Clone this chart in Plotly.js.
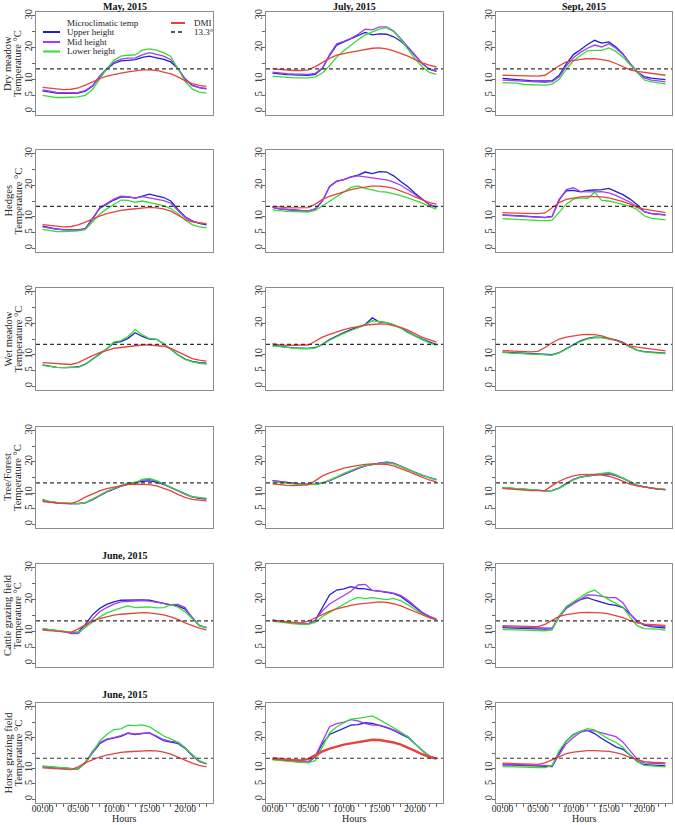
<!DOCTYPE html>
<html><head><meta charset="utf-8">
<script src="https://cdn.plot.ly/plotly-3.0.1.min.js"></script>
<style>html,body{margin:0;padding:0;background:#fff}#chart{width:675px;height:825px}</style>
</head><body><div id="chart"></div>
<script>
// ---------------- DATA ----------------
const hours = [0,1,2,3,4,5,6,7,8,9,10,11,12,13,14,15,16,17,18,19,20,21,22,23];
const hourTicks = [0,5,10,15,20];
const hourLabels = ['00:00','05:00','10:00','15:00','20:00'];
const yTicks = [0,5,10,15,20,25,30];
const yTickText = ['0','5','10','','20','','30'];
const sites = ['Dry meadow','Hedges','Wet meadow','Tree/Forest','Cattle grazing field','Horse grazing field'];
const monthTitles = ['May, 2015','July, 2015','Sept, 2015'];
const juneTitle = 'June, 2015';
const yTitle2 = 'Temperature °C';
const xTitle = 'Hours';
const seriesNames = ['Upper height','Mid height','Lower height','DMI'];
const legendHeader = 'Microclimatic temp';
const threshold = 13.3;

// Dry meadow
const dryMay_upper = [6.4,6.0,5.7,5.6,5.6,5.7,6.3,7.8,10.8,13.2,15.0,15.8,16.0,16.2,16.9,17.3,16.8,16.3,15.5,13.4,10.2,8.2,7.4,7.0];
const dryMay_mid   = [6.7,6.2,5.9,5.8,5.8,5.9,6.5,8.0,11.0,13.4,15.4,16.4,16.7,16.8,17.7,18.4,17.9,17.3,16.2,13.5,10.0,8.0,7.4,7.2];
const dryMay_lower = [5.0,4.6,4.3,4.3,4.4,4.5,5.0,6.8,10.0,13.3,16.0,17.3,17.6,17.7,19.2,19.6,19.2,18.4,17.2,13.3,9.4,7.0,6.0,5.7];
const dryMay_dmi   = [7.5,7.2,7.0,6.8,6.9,7.3,8.2,9.3,10.2,11.0,11.6,12.0,12.4,12.7,13.0,13.0,12.8,12.3,11.7,10.8,9.6,8.7,8.1,7.8];
const dryJul_upper = [12.0,11.7,11.5,11.4,11.3,11.3,11.6,13.5,17.5,20.8,21.8,22.8,24.0,24.8,24.0,24.3,24.2,23.4,22.0,20.0,17.5,15.0,13.2,12.5];
const dryJul_mid   = [12.3,12.0,11.8,11.7,11.6,11.6,11.9,13.6,17.8,21.2,22.0,22.9,24.2,25.8,25.6,26.5,26.5,25.2,22.8,20.3,17.6,15.0,13.3,12.7];
const dryJul_lower = [11.0,10.8,10.6,10.5,10.5,10.5,10.8,12.0,14.3,17.0,19.0,20.8,22.5,24.0,24.8,25.8,26.3,25.0,22.5,19.5,16.5,14.0,12.2,11.6];
const dryJul_dmi   = [13.3,13.1,12.9,12.8,12.8,13.0,14.0,15.4,16.6,17.6,18.2,18.6,19.0,19.4,19.8,19.9,19.6,19.0,18.2,17.3,16.2,15.2,14.5,13.9];
const drySep_upper = [10.3,10.2,10.1,9.8,9.6,9.5,9.5,9.6,11.3,14.9,17.8,19.3,21.0,22.3,21.4,21.8,20.2,18.0,14.9,12.3,10.9,10.4,10.1,9.9];
const drySep_mid   = [9.8,9.7,9.6,9.3,9.2,9.1,9.1,9.3,10.8,14.2,16.8,18.5,19.8,20.8,20.2,21.2,19.8,17.8,15.0,12.4,10.5,9.8,9.5,9.2];
const drySep_lower = [9.0,8.9,8.8,8.4,8.3,8.2,8.2,8.5,10.0,13.2,15.8,17.5,19.0,19.1,19.1,19.9,18.8,17.0,14.5,12.0,9.8,9.2,8.9,8.6];
const drySep_dmi   = [11.3,11.2,11.1,11.0,10.9,11.0,11.3,12.8,14.3,15.5,16.0,16.3,16.5,16.5,16.2,15.8,15.0,14.0,13.0,12.5,12.2,11.9,11.6,11.3];
// Hedges
const hedMay_upper = [7.0,6.5,6.1,5.9,5.8,5.8,6.2,9.3,12.6,14.0,15.3,16.2,16.3,15.9,16.6,17.2,16.6,16.1,15.0,12.3,10.0,8.7,7.9,7.4];
const hedMay_mid   = [6.8,6.3,6.0,5.8,5.7,5.7,6.2,9.0,12.9,14.3,15.6,16.5,16.4,15.9,16.4,16.0,15.5,15.1,14.3,12.0,9.8,8.6,8.0,7.7];
const hedMay_lower = [6.0,5.6,5.3,5.3,5.4,5.5,5.9,8.3,10.8,12.5,14.0,15.3,15.2,14.6,15.0,14.6,14.0,13.5,12.6,11.0,9.0,7.5,6.8,6.5];
const hedMay_dmi   = [7.5,7.2,7.0,6.8,6.9,7.4,8.3,9.3,10.2,11.0,11.6,12.0,12.3,12.6,12.9,13.0,12.8,12.5,11.8,10.5,9.2,8.4,8.0,7.8];
const hedJul_upper = [13.0,12.5,12.3,12.2,12.0,11.8,12.5,15.0,19.6,21.3,21.8,22.7,23.2,24.2,23.7,24.3,24.2,23.0,21.2,19.5,17.5,15.5,13.8,13.0];
const hedJul_mid   = [13.0,12.5,12.3,12.2,12.0,11.8,12.5,15.0,19.5,21.2,21.8,22.6,23.0,22.7,22.2,22.1,21.7,21.0,20.0,18.6,17.0,15.3,13.9,13.2];
const hedJul_lower = [12.2,11.9,11.7,11.6,11.5,11.5,12.0,13.5,15.0,16.3,18.0,19.3,19.8,19.0,18.5,18.0,17.8,17.3,16.7,16.0,15.2,14.3,13.3,12.4];
const hedJul_dmi   = [13.3,13.0,12.9,12.8,12.8,12.9,14.0,15.5,16.5,17.2,18.0,18.6,19.1,19.4,19.7,19.7,19.5,19.0,18.2,17.3,16.3,15.3,14.5,14.0];
const hedSep_upper = [10.6,10.5,10.4,10.1,10.0,9.9,9.8,10.1,15.5,18.2,18.4,17.9,18.4,18.5,18.6,19.0,18.1,17.0,15.6,13.8,11.6,11.0,10.8,10.6];
const hedSep_mid   = [10.5,10.4,10.3,10.1,9.9,9.8,9.7,10.0,15.2,18.6,19.2,18.0,17.9,17.9,18.0,17.6,16.8,15.8,14.6,13.2,11.6,11.0,10.7,10.5];
const hedSep_lower = [9.4,9.3,9.2,9.1,8.8,8.7,8.7,8.9,11.5,14.0,15.6,16.0,15.8,17.8,15.2,15.0,14.5,14.0,13.3,12.3,10.3,9.5,9.2,9.0];
const hedSep_dmi   = [11.3,11.2,11.1,11.0,10.9,11.0,11.2,12.8,14.5,15.5,16.0,16.3,16.5,16.5,16.3,16.0,15.5,14.8,14.0,13.0,12.4,12.0,11.6,11.3];
// Wet meadow (no mid-height series)
const wetMay_upper = [6.8,6.3,6.0,5.9,5.9,6.1,7.0,8.5,10.2,11.8,13.8,14.2,15.2,17.0,15.8,15.0,14.9,13.5,11.8,10.0,8.6,7.9,7.5,7.3];
const wetMay_mid   = [];
const wetMay_lower = [6.6,6.2,6.0,5.9,5.9,6.0,6.9,8.4,10.1,11.9,14.0,14.5,15.8,18.0,16.3,15.1,14.9,13.4,11.7,9.9,8.5,7.7,7.3,7.0];
const wetMay_dmi   = [7.5,7.3,7.1,6.9,6.9,7.5,8.7,9.7,10.7,11.3,12.0,12.3,12.6,12.9,13.1,13.1,13.0,12.7,12.0,11.0,9.8,8.8,8.3,8.0];
const wetJul_upper = [13.0,12.6,12.4,12.2,12.0,12.0,12.3,13.3,14.8,16.0,17.0,18.0,18.8,19.6,21.7,20.4,20.2,19.5,18.5,17.2,16.0,15.0,14.0,13.2];
const wetJul_mid   = [];
const wetJul_lower = [12.8,12.5,12.3,12.1,11.9,11.9,12.2,13.2,14.6,15.8,16.8,17.7,18.5,19.4,20.8,20.5,20.2,19.5,18.4,17.0,15.8,14.8,13.8,13.0];
const wetJul_dmi   = [13.5,13.1,13.0,13.0,13.0,13.1,14.3,15.6,16.5,17.3,18.0,18.5,19.0,19.4,19.6,19.8,19.7,19.3,18.7,17.8,16.7,15.5,14.8,14.0];
const wetSep_upper = [10.8,10.7,10.6,10.4,10.2,10.1,10.0,10.0,10.7,11.9,13.2,14.4,15.2,15.6,15.5,15.1,14.7,13.9,12.5,11.5,11.0,10.8,10.6,10.5];
const wetSep_mid   = [];
const wetSep_lower = [10.7,10.6,10.5,10.3,10.1,10.0,9.9,9.9,10.6,11.8,13.0,14.2,15.0,15.4,15.4,15.0,14.6,13.8,12.4,11.4,10.9,10.7,10.5,10.4];
const wetSep_dmi   = [11.3,11.2,11.1,11.0,10.9,11.1,12.3,13.8,15.0,15.6,16.0,16.3,16.5,16.4,16.0,15.4,14.6,13.6,12.8,12.4,12.1,11.8,11.5,11.2];
// Tree/Forest
const treMay_upper = [7.8,7.2,6.9,6.7,6.6,6.6,6.9,7.9,9.1,10.4,11.3,12.2,12.8,13.3,13.8,13.9,13.5,12.8,11.8,10.7,9.6,8.8,8.3,8.1];
const treMay_mid   = [7.8,7.2,6.9,6.7,6.6,6.6,6.9,7.9,9.2,10.5,11.4,12.4,13.1,13.4,14.2,14.4,13.8,12.9,11.8,10.7,9.6,8.8,8.4,8.2];
const treMay_lower = [8.0,7.3,7.0,6.8,6.7,6.6,6.9,8.0,9.3,10.6,11.5,12.6,13.3,13.4,14.4,14.7,14.0,13.0,11.9,10.8,9.7,8.9,8.5,8.3];
const treMay_dmi   = [7.3,7.0,6.8,6.6,6.6,7.4,8.7,9.8,10.7,11.4,11.9,12.4,12.8,12.9,12.9,12.7,12.3,11.6,10.7,9.6,8.6,8.0,7.7,7.5];
const treJul_upper = [14.0,13.7,13.3,13.1,12.9,12.9,12.8,13.3,14.0,15.0,16.0,17.0,17.9,18.7,19.2,19.6,19.8,19.5,18.6,17.6,16.6,15.7,15.0,14.3];
const treJul_mid   = [14.0,13.7,13.3,13.1,12.9,12.9,12.8,13.3,14.0,15.0,16.0,17.0,17.9,18.7,19.2,19.7,20.0,19.6,18.7,17.6,16.6,15.7,15.0,14.3];
const treJul_lower = [13.7,13.4,13.1,12.9,12.8,12.7,12.7,13.2,14.1,15.2,16.3,17.3,18.2,18.9,19.2,19.4,19.6,19.4,18.6,17.6,16.6,15.7,14.9,14.2];
const treJul_dmi   = [13.0,12.7,12.5,12.4,12.4,12.6,14.0,15.5,16.5,17.3,18.0,18.5,18.9,19.2,19.4,19.4,19.2,18.7,17.9,17.0,16.0,15.0,14.2,13.6];
const treSep_upper = [11.7,11.5,11.3,11.1,10.9,10.8,10.7,10.8,11.6,13.0,14.3,15.1,15.5,15.8,16.1,16.2,15.6,14.7,13.5,12.5,12.0,11.6,11.3,11.1];
const treSep_mid   = [11.7,11.5,11.3,11.1,10.9,10.8,10.7,10.8,11.7,13.1,14.4,15.2,15.6,15.9,16.2,16.3,15.7,14.8,13.6,12.5,12.0,11.6,11.3,11.1];
const treSep_lower = [11.8,11.6,11.4,11.2,11.0,10.9,10.8,10.8,11.5,12.8,14.2,15.1,15.6,15.9,16.3,16.6,15.9,14.9,13.7,12.6,12.0,11.7,11.4,11.2];
const treSep_dmi   = [11.5,11.3,11.1,10.9,10.8,10.8,10.9,12.4,13.8,14.8,15.5,15.9,16.0,16.0,15.8,15.4,14.7,13.8,12.9,12.3,11.9,11.6,11.3,11.1];
// Cattle grazing field
const catJun_upper = [10.8,10.5,10.2,10.0,9.6,9.8,12.2,15.2,17.2,18.5,19.3,19.8,19.9,19.8,19.9,19.8,19.4,18.8,18.3,18.0,17.0,14.5,11.8,11.2];
const catJun_mid   = [10.8,10.5,10.2,9.9,9.3,9.3,11.5,14.0,16.2,17.5,18.6,19.3,19.5,19.6,19.7,19.5,19.2,18.8,18.4,18.5,17.5,14.2,11.9,11.2];
const catJun_lower = [10.9,10.6,10.3,10.1,9.8,9.8,11.2,12.9,14.5,15.8,16.7,17.4,18.0,17.5,17.6,17.7,17.4,17.5,18.4,17.6,16.2,14.0,11.9,11.1];
const catJun_dmi   = [10.4,10.2,10.0,9.8,9.7,10.8,12.0,13.2,14.0,14.6,15.1,15.4,15.6,15.8,15.9,15.8,15.6,15.2,14.6,13.8,12.7,11.8,11.0,10.5];
const catJul_upper = [13.5,13.2,12.9,12.6,12.4,12.3,13.5,17.5,21.5,23.0,23.4,24.1,23.5,23.4,22.9,22.7,22.4,21.9,21.0,19.4,17.6,15.8,14.6,13.8];
const catJul_mid   = [13.4,13.1,12.8,12.6,12.5,12.4,13.6,16.5,18.6,20.0,21.2,22.6,24.6,24.8,22.9,22.7,22.4,22.0,21.3,19.8,17.9,16.0,14.8,13.9];
const catJul_lower = [13.2,12.9,12.6,12.4,12.3,12.2,12.8,14.7,16.0,17.3,18.5,19.8,20.7,20.3,20.6,20.3,20.0,20.4,19.6,18.4,16.9,15.4,14.3,13.6];
const catJul_dmi   = [13.5,13.2,13.0,12.8,12.7,13.2,14.3,15.4,16.3,17.1,17.7,18.2,18.6,18.9,19.2,19.3,19.1,18.7,18.0,17.1,16.1,15.1,14.3,13.7];
const catSep_upper = [11.2,11.1,11.0,10.9,10.8,10.7,10.7,10.8,14.8,17.5,19.1,20.0,20.6,19.8,19.1,18.5,18.2,17.5,15.5,13.2,12.0,11.5,11.3,11.0];
const catSep_mid   = [11.5,11.4,11.3,11.2,11.1,11.0,10.9,11.0,14.5,17.2,18.6,20.0,21.5,21.4,21.0,20.6,20.6,19.0,15.5,13.0,12.2,11.8,11.7,11.5];
const catSep_lower = [10.6,10.5,10.5,10.4,10.3,10.2,10.2,10.5,14.8,17.8,19.2,20.6,22.2,23.0,21.3,20.0,18.8,17.6,14.5,11.8,10.9,10.8,10.7,10.3];
const catSep_dmi   = [11.8,11.7,11.6,11.5,11.4,11.5,12.2,13.5,14.7,15.3,15.7,15.9,16.0,16.0,15.8,15.5,15.0,14.3,13.4,12.7,12.3,12.1,12.0,11.9];
// Horse grazing field
const horJun_upper = [10.6,10.4,10.2,10.0,9.8,9.8,12.0,15.2,18.0,19.3,19.9,20.4,21.4,21.0,21.3,21.5,20.3,19.0,18.5,18.1,16.5,14.2,12.3,11.5];
const horJun_mid   = [10.6,10.4,10.2,10.0,9.8,9.8,11.8,15.5,18.3,19.5,20.0,20.6,21.5,21.1,21.4,21.5,20.5,19.3,18.8,18.5,16.8,14.3,12.3,11.5];
const horJun_lower = [10.8,10.6,10.4,10.2,10.0,9.8,11.7,15.0,18.8,21.0,22.6,22.8,24.0,23.9,24.1,23.5,22.0,20.5,19.6,18.5,16.6,14.5,12.5,11.6];
const horJun_dmi   = [10.2,10.0,9.8,9.6,9.6,10.5,11.8,12.8,13.7,14.3,14.8,15.2,15.4,15.6,15.8,15.8,15.7,15.3,14.6,13.6,12.6,11.7,11.0,10.5];
const horJul_upper = [13.0,12.7,12.5,12.3,12.1,12.0,13.8,18.0,21.0,22.0,22.8,24.0,24.2,24.8,24.6,24.0,23.2,22.3,21.2,20.0,18.0,15.8,14.0,13.3];
const horJul_mid   = [13.0,12.7,12.5,12.3,12.1,12.0,14.0,19.0,23.5,24.5,25.0,25.8,25.4,24.5,24.0,24.0,23.4,22.5,21.5,20.3,18.0,15.8,14.0,13.3];
const horJul_lower = [12.8,12.6,12.3,12.1,12.0,11.8,12.5,17.0,21.5,23.5,24.8,26.0,26.2,26.6,27.0,25.8,24.5,23.2,21.8,20.2,18.0,15.8,14.0,13.2];
const horJul_dmi   = [13.3,13.0,12.8,12.7,12.6,13.0,14.3,15.5,16.4,17.1,17.7,18.1,18.5,19.0,19.3,19.2,18.9,18.4,17.7,16.8,15.7,14.6,13.7,13.2];
const horSep_upper = [11.2,11.1,11.0,10.9,10.8,10.7,10.7,10.6,14.9,18.9,21.0,22.0,22.3,21.3,19.7,18.3,17.0,16.2,14.4,12.4,11.2,11.0,10.9,10.8];
const horSep_mid   = [11.4,11.3,11.2,11.1,11.0,10.9,10.9,10.9,14.5,18.0,20.0,21.7,22.3,22.2,21.5,21.0,20.3,18.5,15.8,13.0,11.8,11.6,11.6,11.5];
const horSep_lower = [10.6,10.5,10.5,10.4,10.3,10.3,10.3,11.0,15.8,18.9,20.8,22.0,22.9,22.5,20.9,19.5,18.5,16.8,14.3,12.2,11.0,10.8,10.8,10.5];
const horSep_dmi   = [11.7,11.6,11.5,11.4,11.3,11.3,11.8,12.8,14.0,14.8,15.3,15.6,15.8,15.8,15.7,15.5,15.1,14.5,13.6,12.8,12.2,12.0,11.9,11.8];

// panels in reading order (row = site, col = month)
const panelSeries = [
  [dryMay_upper, dryMay_mid, dryMay_lower, dryMay_dmi],
  [dryJul_upper, dryJul_mid, dryJul_lower, dryJul_dmi],
  [drySep_upper, drySep_mid, drySep_lower, drySep_dmi],
  [hedMay_upper, hedMay_mid, hedMay_lower, hedMay_dmi],
  [hedJul_upper, hedJul_mid, hedJul_lower, hedJul_dmi],
  [hedSep_upper, hedSep_mid, hedSep_lower, hedSep_dmi],
  [wetMay_upper, wetMay_mid, wetMay_lower, wetMay_dmi],
  [wetJul_upper, wetJul_mid, wetJul_lower, wetJul_dmi],
  [wetSep_upper, wetSep_mid, wetSep_lower, wetSep_dmi],
  [treMay_upper, treMay_mid, treMay_lower, treMay_dmi],
  [treJul_upper, treJul_mid, treJul_lower, treJul_dmi],
  [treSep_upper, treSep_mid, treSep_lower, treSep_dmi],
  [catJun_upper, catJun_mid, catJun_lower, catJun_dmi],
  [catJul_upper, catJul_mid, catJul_lower, catJul_dmi],
  [catSep_upper, catSep_mid, catSep_lower, catSep_dmi],
  [horJun_upper, horJun_mid, horJun_lower, horJun_dmi],
  [horJul_upper, horJul_mid, horJul_lower, horJul_dmi],
  [horSep_upper, horSep_mid, horSep_lower, horSep_dmi]
];

// ---------------- STYLE / LAYOUT ----------------
const W = 675, H = 825;
const FONT = 'Liberation Serif, Times New Roman, serif';
const colors = ['#2020cc', '#a23ef0', '#36dc36', '#e2443e'];
const lineW = 1.3;
const colPx = [[36,213],[266,443],[496,672]];
const rowPx = [[12,115],[150,252],[288,390],[427,528],[564,667],[703,803]];
const px = x => x / W;
const py = y => 1 - y / H;

const hourTickText = hours.map(h => { const i = hourTicks.indexOf(h); return i >= 0 ? hourLabels[i] : ''; });

const traces = [];
const layout = {
  width: W, height: H,
  margin: {l:0, r:0, t:0, b:0},
  paper_bgcolor: '#fff', plot_bgcolor: '#fff',
  showlegend: false,
  font: {family: FONT, color: '#222', size: 10},
  shapes: [], annotations: []
};

panelSeries.forEach((ser, i) => {
  const r = Math.floor(i / 3), c = i % 3;
  const sfx = i === 0 ? '' : String(i + 1);
  const thickRed = (r === 5 && c === 1);
  ser.forEach((vals, k) => {
    if (!vals.length) return;
    traces.push({
      type: 'scatter', mode: 'lines', x: hours, y: vals, name: seriesNames[k],
      xaxis: 'x' + sfx, yaxis: 'y' + sfx, hoverinfo: 'skip',
      line: {color: colors[k], width: (k === 3 && thickRed) ? 2.4 : lineW}
    });
  });
  const bottom = r === 5;
  layout['xaxis' + sfx] = {
    domain: [px(colPx[c][0]), px(colPx[c][1])],
    anchor: 'y' + sfx,
    range: [-0.92, 23.92],
    showline: true, mirror: true, linecolor: '#8c8c8c', linewidth: 1,
    showgrid: false, zeroline: false, fixedrange: true,
    tickmode: 'array', tickvals: hours, ticktext: hourTickText,
    ticks: bottom ? 'outside' : '', ticklen: 3, tickcolor: '#666',
    ticklabelstandoff: -6,
    showticklabels: bottom, tickfont: {family: FONT, size: 9.5, color: '#222'}
  };
  layout['yaxis' + sfx] = {
    domain: [py(rowPx[r][1]), py(rowPx[r][0])],
    anchor: 'x' + sfx,
    range: [-1.2, 31.2],
    showline: true, mirror: true, linecolor: '#8c8c8c', linewidth: 1,
    showgrid: false, zeroline: false, fixedrange: true,
    tickmode: 'array', tickvals: yTicks, ticktext: yTickText,
    ticks: 'outside', ticklen: 3, tickcolor: '#666', tickangle: -90,
    ticklabelstandoff: -4,
    tickfont: {family: FONT, size: 10.5, color: '#222'}
  };
  // 13.3° reference line
  layout.shapes.push({
    type: 'line', xref: 'x' + sfx + ' domain', x0: 0, x1: 1,
    yref: 'y' + sfx, y0: threshold, y1: threshold,
    line: {color: '#333', width: 1.2, dash: '4px,3px'}
  });
  if (bottom) {
    layout.annotations.push({
      text: xTitle, xref: 'paper', yref: 'paper',
      x: px((colPx[c][0] + colPx[c][1]) / 2), y: 0,
      xanchor: 'center', yanchor: 'bottom', borderpad: 0, showarrow: false,
      font: {family: FONT, size: 10, color: '#222'}
    });
  }
});

// row titles (y labels)
sites.forEach((s, r) => {
  const yc = py((rowPx[r][0] + rowPx[r][1]) / 2);
  layout.annotations.push({text: s, textangle: -90, xref: 'paper', yref: 'paper', x: px(7.5), y: yc,
    xanchor: 'center', yanchor: 'middle', showarrow: false, font: {family: FONT, size: 10.5, color: '#222'}});
  layout.annotations.push({text: yTitle2, textangle: -90, xref: 'paper', yref: 'paper', x: px(17.5), y: yc,
    xanchor: 'center', yanchor: 'middle', showarrow: false, font: {family: FONT, size: 10.5, color: '#222'}});
});

// column / panel titles
const titleSpots = [
  [monthTitles[0], 0, 6], [monthTitles[1], 1, 6], [monthTitles[2], 2, 6],
  [juneTitle, 0, 555], [juneTitle, 0, 694]
];
titleSpots.forEach(([t, c, y]) => {
  layout.annotations.push({text: '<b>' + t + '</b>', xref: 'paper', yref: 'paper',
    x: px((colPx[c][0] + colPx[c][1]) / 2), y: py(y), xanchor: 'center', yanchor: 'middle',
    showarrow: false, font: {family: FONT, size: 10, color: '#111'}});
});

// legend inside first panel
const legFont = {family: FONT, size: 9, color: '#222'};
layout.annotations.push({text: legendHeader, xref: 'paper', yref: 'paper', x: px(65), y: py(23),
  xanchor: 'left', yanchor: 'middle', showarrow: false, font: legFont});
[0,1,2].forEach(k => {
  const yy = [32, 42, 51.5][k];
  layout.shapes.push({type: 'line', xref: 'paper', yref: 'paper', x0: px(43), x1: px(60), y0: py(yy), y1: py(yy),
    line: {color: colors[k], width: 2}});
  layout.annotations.push({text: seriesNames[k], xref: 'paper', yref: 'paper', x: px(65), y: py(yy),
    xanchor: 'left', yanchor: 'middle', showarrow: false, font: legFont});
});
layout.shapes.push({type: 'line', xref: 'paper', yref: 'paper', x0: px(171), x1: px(185), y0: py(23), y1: py(23),
  line: {color: colors[3], width: 2}});
layout.annotations.push({text: seriesNames[3], xref: 'paper', yref: 'paper', x: px(192), y: py(23),
  xanchor: 'left', yanchor: 'middle', showarrow: false, font: legFont});
layout.shapes.push({type: 'line', xref: 'paper', yref: 'paper', x0: px(171), x1: px(185), y0: py(32), y1: py(32),
  line: {color: '#222', width: 1.6, dash: '4px,3px'}});
layout.annotations.push({text: threshold + '°', xref: 'paper', yref: 'paper', x: px(192), y: py(32),
  xanchor: 'left', yanchor: 'middle', showarrow: false, font: legFont});

Plotly.newPlot('chart', traces, layout, {staticPlot: true, displayModeBar: false});
</script>
</body></html>
